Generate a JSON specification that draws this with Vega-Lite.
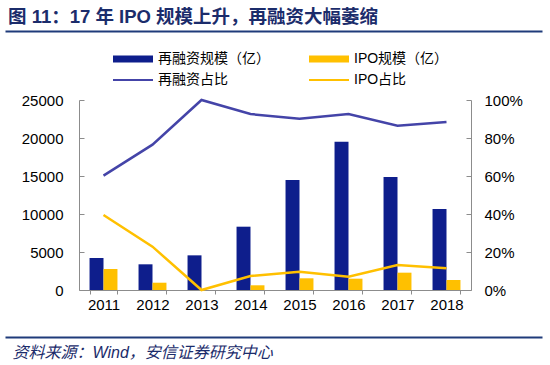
{
  "$schema": "https://vega.github.io/schema/vega-lite/v6.json",
  "width": 392,
  "height": 190,
  "autosize": {"type": "none"},
  "padding": {"left": 79, "top": 100, "right": 79, "bottom": 75},
  "background": "white",
  "title": {
    "text": "图 11：17 年 IPO 规模上升，再融资大幅萎缩",
    "anchor": "start",
    "frame": "group",
    "dx": -71,
    "offset": 5,
    "font": "Liberation Sans, Noto Sans CJK SC",
    "fontSize": 18.5,
    "fontWeight": "bold",
    "color": "#1B2C6B"
  },
  "config": {
    "view": {"stroke": null},
    "font": "Liberation Sans, Noto Sans CJK SC",
    "axis": {"grid": false, "labelColor": "#000", "labelFontSize": 15, "domainColor": "#8c8c8c", "tickColor": "#8c8c8c", "labelFont": "Liberation Sans"}
  },
  "data": {
    "values": [
      {"year": "2011", "再融资规模（亿）": 4210, "IPO规模（亿）": 2760, "再融资占比": 0.602, "IPO占比": 0.395},
      {"year": "2012", "再融资规模（亿）": 3380, "IPO规模（亿）": 960, "再融资占比": 0.765, "IPO占比": 0.228},
      {"year": "2013", "再融资规模（亿）": 4560, "IPO规模（亿）": 0, "再融资占比": 1.0, "IPO占比": 0.0},
      {"year": "2014", "再融资规模（亿）": 8330, "IPO规模（亿）": 620, "再融资占比": 0.926, "IPO占比": 0.074},
      {"year": "2015", "再融资规模（亿）": 14470, "IPO规模（亿）": 1540, "再融资占比": 0.902, "IPO占比": 0.096},
      {"year": "2016", "再融资规模（亿）": 19510, "IPO规模（亿）": 1490, "再融资占比": 0.926, "IPO占比": 0.07},
      {"year": "2017", "再融资规模（亿）": 14870, "IPO规模（亿）": 2280, "再融资占比": 0.865, "IPO占比": 0.132},
      {"year": "2018", "再融资规模（亿）": 10660, "IPO规模（亿）": 1316, "再融资占比": 0.884, "IPO占比": 0.114}
    ]
  },
  "layer": [
    {
      "layer": [
        {
          "transform": [{"fold": ["再融资规模（亿）", "IPO规模（亿）"], "as": ["series", "value"]}],
          "mark": {"type": "bar"},
          "encoding": {
            "x": {
              "field": "year", "type": "ordinal",
              "scale": {"paddingInner": 0.43, "paddingOuter": 0.215},
              "axis": {
                "labelAngle": 0, "tickBand": "extent", "tickSize": 4, "labelPadding": 3,
                "title": "资料来源：Wind，安信证券研究中心",
                "titleFont": "Liberation Sans, Noto Sans CJK SC",
                "titleFontStyle": "italic", "titleFontWeight": "normal", "titleFontSize": 16,
                "titleColor": "#1B2C6B", "titleAnchor": "start", "titleAlign": "left",
                "titleX": -67, "titleY": 62, "titleBaseline": "middle"
              }
            },
            "xOffset": {"field": "series", "type": "nominal", "sort": ["再融资规模（亿）", "IPO规模（亿）"], "scale": {"paddingInner": 0, "paddingOuter": 0}},
            "y": {
              "field": "value", "type": "quantitative",
              "scale": {"domain": [0, 25000], "nice": false},
              "axis": {"values": [0, 5000, 10000, 15000, 20000, 25000], "format": "d", "title": null, "tickSize": -5, "labelPadding": 21}
            },
            "color": {
              "field": "series", "type": "nominal",
              "scale": {"domain": ["再融资规模（亿）", "再融资占比", "IPO规模（亿）", "IPO占比"], "range": ["#0E1E8C", "#4444A8", "#FFC000", "#FFC000"]},
              "legend": {
                "title": null, "orient": "none", "legendX": 47, "legendY": -48, "columns": 2,
                "symbolType": "stroke", "symbolSize": 1600, "labelFontSize": 14, "labelColor": "#000",
                "labelFont": "Liberation Sans, Noto Sans CJK SC", "columnPadding": 25, "rowPadding": -1, "labelOffset": 18,
                "encode": {"symbols": {"update": {
                  "stroke": {"scale": "color", "field": "value"},
                  "strokeWidth": {"signal": "indexof(['再融资规模（亿）','IPO规模（亿）'], datum.value) >= 0 ? 7 : 2"}
                }}}
              }
            }
          }
        },
        {
          "transform": [{"fold": ["再融资占比", "IPO占比"], "as": ["series", "value"]}],
          "mark": {"type": "line", "strokeWidth": 2.5},
          "encoding": {
            "x": {"field": "year", "type": "ordinal"},
            "y": {
              "field": "value", "type": "quantitative",
              "scale": {"domain": [0, 1], "nice": false},
              "axis": {"orient": "right", "values": [0, 0.2, 0.4, 0.6, 0.8, 1], "format": ".0%", "title": null, "tickSize": -5, "labelPadding": 18}
            },
            "color": {"field": "series", "type": "nominal"}
          }
        }
      ],
      "resolve": {"scale": {"y": "independent"}}
    },
    {
      "mark": {"type": "rule", "opacity": 0},
      "encoding": {
        "x": {
          "field": "IPO占比", "type": "quantitative",
          "scale": {"domain": [0, 1], "range": [-74, 463], "nice": false, "zero": false},
          "axis": {"orient": "top", "offset": 69, "labels": false, "ticks": false, "title": null, "domainColor": "#1F3B7A", "domainWidth": 2}
        }
      }
    },
    {
      "mark": {"type": "rule", "opacity": 0},
      "encoding": {
        "x": {
          "field": "再融资占比", "type": "quantitative",
          "scale": {"domain": [0, 1], "range": [-74, 463], "nice": false, "zero": false},
          "axis": {"orient": "bottom", "offset": 47, "labels": false, "ticks": false, "title": null, "domainColor": "#1F3B7A", "domainWidth": 2}
        }
      }
    }
  ],
  "resolve": {"scale": {"x": "independent", "y": "independent"}}
}
